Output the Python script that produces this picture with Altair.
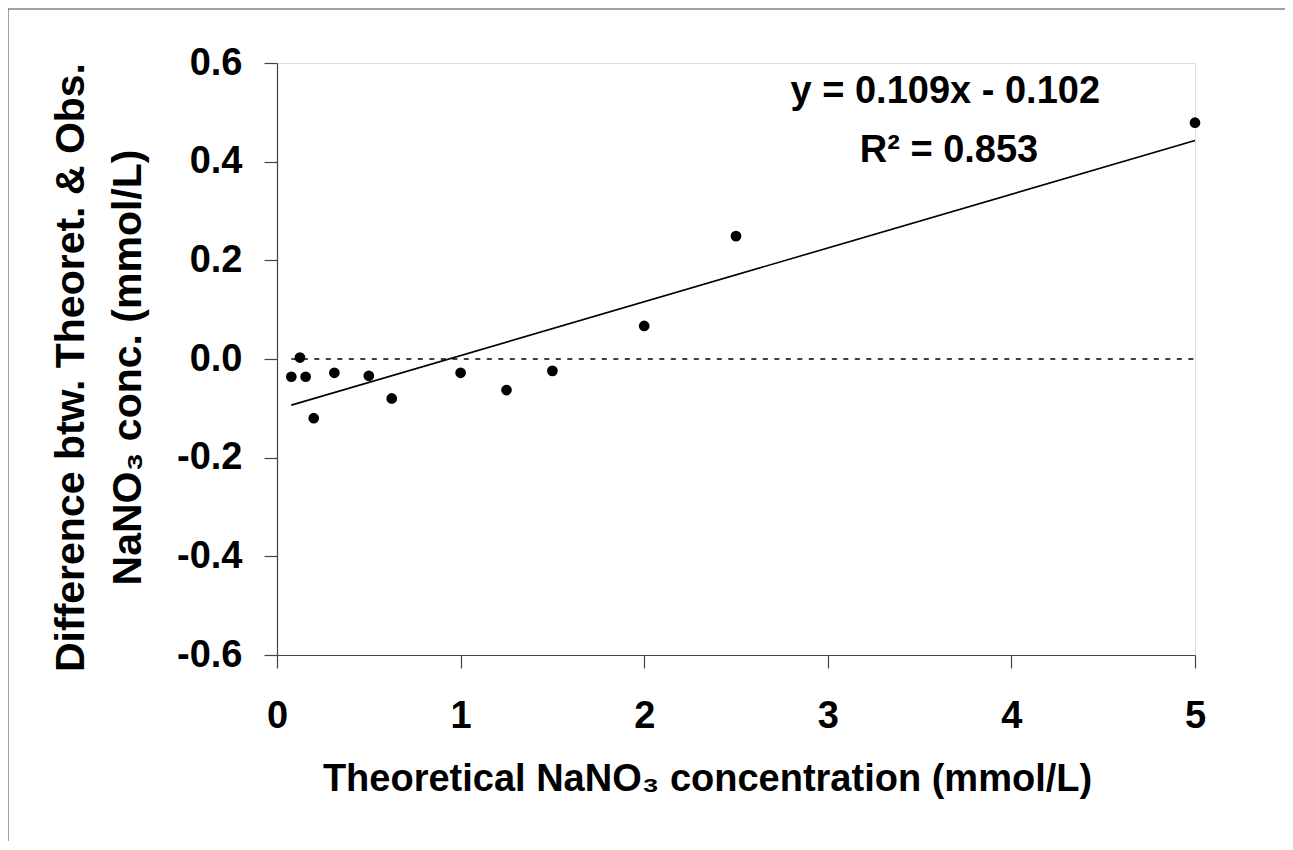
import altair as alt
import pandas as pd

# Data
conc = [0.078, 0.125, 0.156, 0.2, 0.3125, 0.5, 0.625, 1.0, 1.25, 1.5, 2.0, 2.5, 5.0]
diff = [-0.036, 0.003, -0.036, -0.120, -0.028, -0.034, -0.080, -0.028, -0.063, -0.024, 0.067, 0.249, 0.479]

slope = 0.109
intercept = -0.102
eq_lines = ["y = 0.109x - 0.102", "R² = 0.853"]
eq_x = [3.64, 3.66]
eq_y = [0.519, 0.399]

x_ticks = [0, 1, 2, 3, 4, 5]
y_ticks = [-0.6, -0.4, -0.2, 0.0, 0.2, 0.4, 0.6]

FONT = "Liberation Sans"
FS = 38

pts = pd.DataFrame({"x": conc, "y": diff})
fit = pd.DataFrame({"x": [min(conc), max(conc)]})
fit["y"] = [slope * v + intercept for v in fit["x"]]
zero = pd.DataFrame({"x": [min(conc)], "x2": [max(conc)], "y": [0.0]})
eq = pd.DataFrame({"t": eq_lines, "x": eq_x, "y": eq_y})

xscale = alt.Scale(domain=[0, 5], nice=False, zero=False)
yscale = alt.Scale(domain=[-0.6, 0.6], nice=False, zero=False)

xaxis = alt.Axis(
    values=x_ticks, format="d", grid=False,
    domainColor="#444", domainWidth=1.2, tickColor="#444", tickWidth=1.2, tickSize=13,
    labelFont=FONT, labelFontSize=FS, labelFontWeight="bold", labelColor="black",
    labelPadding=29, labelFlush=False,
    title="Theoretical NaNO₃ concentration (mmol/L)",
    titleFont=FONT, titleFontSize=FS, titleFontWeight="bold", titleColor="black",
    titleX=430, titleY=135, titleAlign="center", titleBaseline="alphabetic", titleAnchor="start",
)
yaxis = alt.Axis(
    values=y_ticks, grid=False,
    labelExpr="replace(format(datum.value, '.1f'), '\u2212', '-')",
    domainColor="#444", domainWidth=1.2, tickColor="#444", tickWidth=1.2, tickSize=13,
    labelFont=FONT, labelFontSize=FS, labelFontWeight="bold", labelColor="black",
    labelPadding=22, labelFlush=False,
    title=["Difference btw. Theoret. & Obs.", "NaNO₃ conc. (mmol/L)"],
    titleFont=FONT, titleFontSize=41, titleFontWeight="bold", titleColor="black",
    titleAngle=270, titleX=-194, titleY=304, titleAlign="center", titleBaseline="alphabetic",
    titleLineHeight=57, titleAnchor="start",
)

base_x = alt.X("x:Q", scale=xscale, axis=xaxis)
base_y = alt.Y("y:Q", scale=yscale, axis=yaxis)

zero_line = alt.Chart(zero).mark_rule(color="black", strokeWidth=1.6, strokeDash=[5, 6.5]).encode(
    x=alt.X("x:Q", scale=xscale, axis=xaxis), x2="x2:Q", y=alt.Y("y:Q", scale=yscale, axis=yaxis)
)
fit_line = alt.Chart(fit).mark_line(color="black", strokeWidth=1.6).encode(x=base_x, y=base_y)
points = alt.Chart(pts).mark_circle(color="black", opacity=1, size=115).encode(x=base_x, y=base_y)
eq_text = alt.Chart(eq).mark_text(
    font=FONT, fontSize=FS, fontWeight="bold", color="black", align="center", baseline="alphabetic"
).encode(x=alt.X("x:Q", scale=xscale), y=alt.Y("y:Q", scale=yscale), text="t:N")

border_left = alt.Chart(pd.DataFrame({"a": [0]})).mark_rule(color="#444", strokeWidth=1).encode(
    x=alt.value(-269), y=alt.value(-54), y2=alt.value(900)
)
border_top = alt.Chart(pd.DataFrame({"a": [0]})).mark_rule(color="#444", strokeWidth=1).encode(
    x=alt.value(-269), x2=alt.value(1100), y=alt.value(-54)
)

chart = alt.layer(zero_line, fit_line, points, eq_text, border_left, border_top).properties(
    width=918, height=592,
    padding={"left": 269, "top": 55, "right": 90, "bottom": 186},
    autosize=alt.AutoSizeParams(type="none"),
).configure_view(stroke=None).configure(background="white")

chart.save("out.html", embed_options={"renderer": "svg", "actions": False})
